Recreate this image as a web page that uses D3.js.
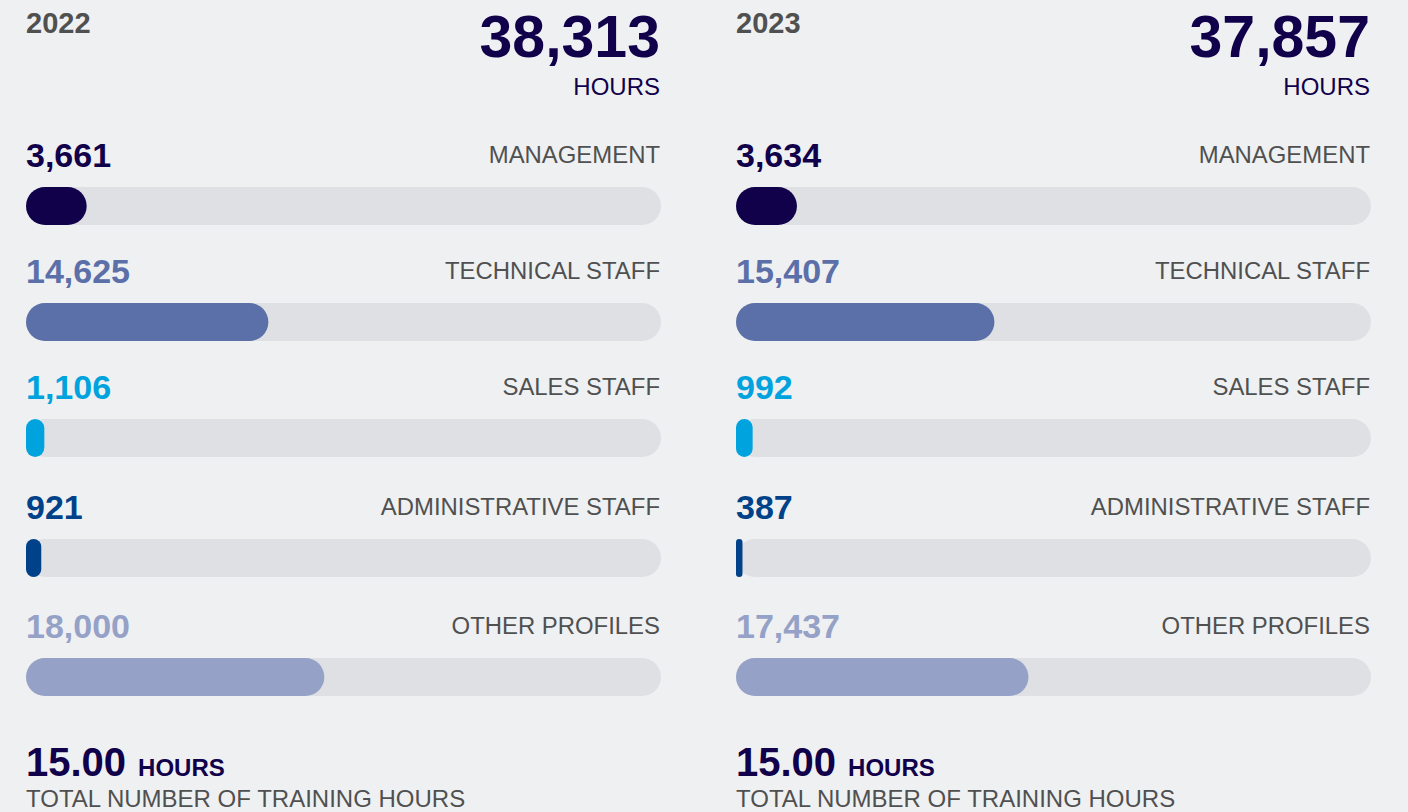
<!DOCTYPE html>
<html>
<head>
<meta charset="utf-8">
<script src="https://cdn.jsdelivr.net/npm/d3@7/dist/d3.min.js"></script>
<style>
  html, body { margin: 0; padding: 0; background: #eff0f2; }
  svg { display: block; font-family: "Liberation Sans", Arial, Helvetica, sans-serif; }
</style>
</head>
<body>
<svg id="chart" width="1408" height="812"></svg>
<script>
// Training hours by employee profile
const years = ["2022", "2023"];
const totalHours = [38313, 37857];
const categories = ["MANAGEMENT", "TECHNICAL STAFF", "SALES STAFF", "ADMINISTRATIVE STAFF", "OTHER PROFILES"];
const hours2022 = [3661, 14625, 1106, 921, 18000];
const hours2023 = [3634, 15407, 992, 387, 17437];
const averageHours = [15.00, 15.00];

const seriesByYear = [hours2022, hours2023];
const categoryColors = ["#11004a", "#5b6fa8", "#00a3dd", "#004289", "#95a1c7"];

const W = 1408, H = 812;
const svg = d3.select("#chart");
svg.append("rect").attr("width", W).attr("height", H).attr("fill", "#eff0f2");

const navy = "#11004a";
const grey = "#505050";
const fmtInt = d3.format(",");
const fmtAvg = d3.format(".2f");

// two side-by-side panels
const panelScale = d3.scaleBand().domain(years).range([26, 1371]).paddingInner(75 / 710);
const panelW = panelScale.bandwidth();

// top edge of each bar track
const rowScale = d3.scaleOrdinal().domain(categories).range([187, 303, 419, 539, 658]);
const barH = 38;

years.forEach((year, yi) => {
  const g = svg.append("g").attr("transform", `translate(${panelScale(year)},0)`);
  const x = d3.scaleLinear().domain([0, totalHours[yi]]).range([0, panelW]);

  g.append("text")
    .attr("x", 0).attr("y", 33)
    .attr("font-size", 29).attr("font-weight", 700).attr("fill", grey)
    .text(year);

  g.append("text")
    .attr("x", panelW - 1).attr("y", 57)
    .attr("text-anchor", "end")
    .attr("font-size", 59).attr("font-weight", 700).attr("fill", navy)
    .text(fmtInt(totalHours[yi]));

  g.append("text")
    .attr("x", panelW - 1).attr("y", 95)
    .attr("text-anchor", "end")
    .attr("font-size", 24).attr("fill", navy)
    .text("HOURS");

  const rows = g.selectAll("g.row")
    .data(categories.map((c, i) => ({ cat: c, value: seriesByYear[yi][i], color: categoryColors[i] })))
    .join("g")
    .attr("class", "row")
    .attr("transform", d => `translate(0,${rowScale(d.cat)})`);

  rows.append("rect")
    .attr("x", 0).attr("y", 0)
    .attr("width", x(totalHours[yi])).attr("height", barH)
    .attr("rx", barH / 2).attr("ry", barH / 2)
    .attr("fill", "#dfe0e4");

  rows.append("rect")
    .attr("x", 0).attr("y", 0)
    .attr("width", d => x(d.value)).attr("height", barH)
    .attr("rx", d => Math.min(barH / 2, x(d.value) / 2))
    .attr("ry", d => Math.min(barH / 2, x(d.value) / 2))
    .attr("fill", d => d.color);

  rows.append("text")
    .attr("x", 0).attr("y", -20)
    .attr("font-size", 34).attr("font-weight", 700)
    .attr("fill", d => d.color)
    .text(d => fmtInt(d.value));

  rows.append("text")
    .attr("x", panelW - 1).attr("y", -24)
    .attr("text-anchor", "end")
    .attr("font-size", 23.9).attr("fill", grey)
    .text(d => d.cat);

  // average per employee
  const avg = g.append("text")
    .attr("x", 0).attr("y", 776)
    .attr("font-size", 40).attr("font-weight", 700).attr("fill", navy)
    .text(fmtAvg(averageHours[yi]));
  const avgW = avg.node().getComputedTextLength();
  g.append("text")
    .attr("x", avgW + 12).attr("y", 776)
    .attr("font-size", 24).attr("font-weight", 700).attr("fill", navy)
    .text("HOURS");

  g.append("text")
    .attr("x", 0).attr("y", 807)
    .attr("font-size", 24).attr("fill", grey)
    .text("TOTAL NUMBER OF TRAINING HOURS");
});
</script>
</body>
</html>
